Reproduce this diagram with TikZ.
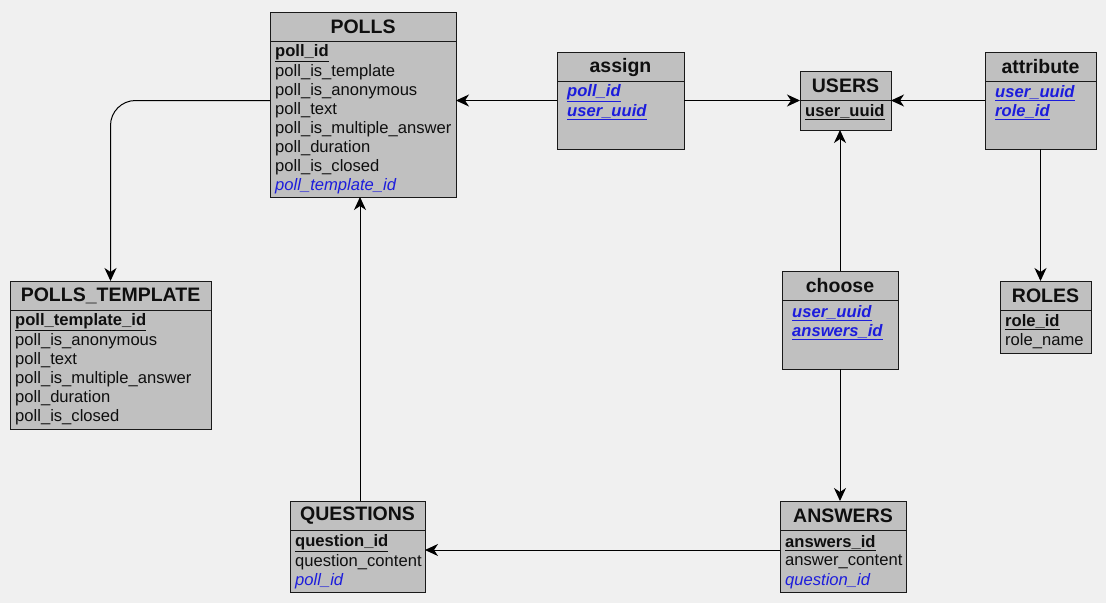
\documentclass[tikz,border=0pt]{standalone}
\usepackage{fontspec}
\setmainfont{Liberation Sans}
\usetikzlibrary{arrows.meta,calc}

\definecolor{canvas}{RGB}{240,240,240}
\definecolor{boxfill}{RGB}{192,192,192}
\definecolor{fkblue}{RGB}{28,28,220}
\definecolor{ink}{RGB}{15,15,15}

% key styles for columns
\newcommand{\pkey}[1]{\textbf{\underline{#1}}}
\newcommand{\fkey}[1]{\textcolor{fkblue}{\textit{#1}}}
\newcommand{\pfkey}[1]{\textcolor{fkblue}{\textbf{\textit{\underline{#1}}}}}

% table box: name, left, top, width, height, title
\newcommand{\ertable}[6]{%
  \node[tablebox, minimum width=#4pt, minimum height=#5pt, anchor=north west] (#1) at (#2,#3) {};
  \draw[divider] ([yshift=-29pt]#1.north west) -- ([yshift=-29pt]#1.north east);
  \node[titletext] (#1-title) at ([yshift=-15pt]#1.north) {#6};
}
% one column row: name, x, y, text
\newcommand{\errow}[4]{\node[rowtext] (#1) at (#2,#3+2) {#4};}

\begin{document}
\begin{tikzpicture}[x=1pt,y=-1pt,
  tablebox/.style={draw=black!90, line width=0.9pt, fill=boxfill, inner sep=0pt, outer sep=0pt},
  divider/.style={draw=black!90, line width=0.9pt},
  titletext/.style={font=\fontsize{19.5}{22}\selectfont\bfseries, text=ink, inner sep=0pt},
  rowtext/.style={font=\fontsize{16.6}{19}\selectfont, text=ink, anchor=west, inner sep=0pt},
  conn/.style={draw=black, line width=1pt, -{Stealth[length=13pt,width=12pt,inset=4pt]}}
]
\path[use as bounding box, fill=canvas] (0,0) rectangle (1106,603);

% POLLS
\ertable{polls}{270}{12}{186}{185}{POLLS}
\errow{polls-r1}{275}{51}{\pkey{poll\_id}}
\errow{polls-r2}{275}{70}{poll\_is\_template}
\errow{polls-r3}{275}{89}{poll\_is\_anonymous}
\errow{polls-r4}{275}{108}{poll\_text}
\errow{polls-r5}{275}{127}{poll\_is\_multiple\_answer}
\errow{polls-r6}{275}{146}{poll\_duration}
\errow{polls-r7}{275}{165}{poll\_is\_closed}
\errow{polls-r8}{275}{184}{\fkey{poll\_template\_id}}

% assign
\ertable{assign}{557}{52}{127}{97}{assign}
\errow{assign-r1}{567}{91}{\pfkey{poll\_id}}
\errow{assign-r2}{567}{110}{\pfkey{user\_uuid}}

% USERS
\ertable{users}{800}{71}{91}{59}{USERS}
\errow{users-r1}{805}{110}{\pkey{user\_uuid}}

% attribute
\ertable{attribute}{985}{52}{111}{97}{attribute}
\errow{attribute-r1}{995}{91}{\pfkey{user\_uuid}}
\errow{attribute-r2}{995}{110}{\pfkey{role\_id}}

% POLLS_TEMPLATE
\ertable{ptemplate}{10}{281}{201}{148}{POLLS\_TEMPLATE}
\errow{ptemplate-r1}{15}{320}{\pkey{poll\_template\_id}}
\errow{ptemplate-r2}{15}{339}{poll\_is\_anonymous}
\errow{ptemplate-r3}{15}{358}{poll\_text}
\errow{ptemplate-r4}{15}{377}{poll\_is\_multiple\_answer}
\errow{ptemplate-r5}{15}{396}{poll\_duration}
\errow{ptemplate-r6}{15}{415}{poll\_is\_closed}

% choose
\ertable{choose}{782}{271}{116}{98}{choose}
\errow{choose-r1}{792}{311}{\pfkey{user\_uuid}}
\errow{choose-r2}{792}{330}{\pfkey{answers\_id}}

% ROLES
\ertable{roles}{1000}{281}{91}{72}{ROLES}
\errow{roles-r1}{1005}{320}{\pkey{role\_id}}
\errow{roles-r2}{1005}{339}{role\_name}

% QUESTIONS
\ertable{questions}{290}{501}{135}{91}{QUESTIONS}
\errow{questions-r1}{295}{541}{\pkey{question\_id}}
\errow{questions-r2}{295}{560}{question\_content}
\errow{questions-r3}{295}{579}{\fkey{poll\_id}}

% ANSWERS
\ertable{answers}{780}{501}{126}{91}{ANSWERS}
\errow{answers-r1}{785}{541}{\pkey{answers\_id}}
\errow{answers-r2}{785}{560}{answer\_content}
\errow{answers-r3}{785}{579}{\fkey{question\_id}}

% relations
\draw[conn, rounded corners=25pt] (polls.west |- assign.west) -| (ptemplate.north);
\draw[conn] (assign.west) -- (assign.west -| polls.east);
\draw[conn] (assign.east) -- (assign.east -| users.west);
\draw[conn] (attribute.west) -- (attribute.west -| users.east);
\draw[conn] (attribute.south) -- (attribute.south |- roles.north);
\draw[conn] (choose.north) -- (choose.north |- users.south);
\draw[conn] (choose.south) -- (choose.south |- answers.north);
\draw[conn] ($(answers.west)+(0,3.5)$) -- ($(answers.west -| questions.east)+(0,3.5)$);
\draw[conn] ($(questions.north)+(2.5,0)$) -- ($(questions.north |- polls.south)+(2.5,0)$);
\end{tikzpicture}
\end{document}
